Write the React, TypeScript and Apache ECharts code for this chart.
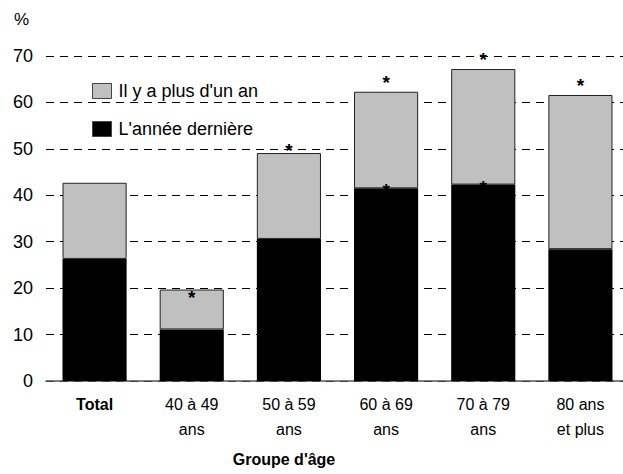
import React, { useEffect, useRef } from "react";
import * as echarts from "echarts";

const categories = ["Total", "40 à 49\nans", "50 à 59\nans", "60 à 69\nans", "70 à 79\nans", "80 ans\net plus"];
const lastYear = [26.3, 11.1, 30.6, 41.5, 42.3, 28.4];
const overYear = [16.4, 8.6, 18.5, 20.8, 24.9, 33.2];
const lastYearStar = [false, false, false, true, true, false];
const overYearStar = [false, true, true, true, true, true];
const yTicks = [0, 10, 20, 30, 40, 50, 60, 70];

const FONT = "'Liberation Sans', Arial, sans-serif";

export default function App() {
  const ref = useRef<HTMLDivElement>(null);
  useEffect(() => {
    if (!ref.current) return;
    const chart = echarts.init(ref.current, undefined, { renderer: "svg" });
    const overOffsets = [0, 17, 7, 0, 0, 0];
    chart.setOption({
      animation: false,
      textStyle: { fontFamily: FONT },
      grid: { left: 46, right: 11, top: 56, bottom: 93, containLabel: false },
      legend: {
        orient: "vertical",
        left: 92,
        top: 82,
        padding: 0,
        icon: "rect",
        itemWidth: 19,
        itemHeight: 15,
        itemGap: 20,
        data: ["Il y a plus d'un an", "L'année dernière"],
        itemStyle: { borderColor: "#444", borderWidth: 1 },
        textStyle: { fontFamily: FONT, fontSize: 18, color: "#000", padding: [0, 0, 0, 2] },
      },
      xAxis: {
        type: "category",
        data: categories,
        axisTick: { show: false },
        axisLine: { lineStyle: { color: "#555", width: 1.5 } },
        axisLabel: {
          interval: 0,
          margin: 11,
          fontSize: 16,
          lineHeight: 25,
          color: "#000",
          fontFamily: FONT,
          formatter: (v: string) => (v === "Total" ? "{b|Total}" : v),
          rich: { b: { fontWeight: "bold", fontSize: 16, fontFamily: FONT, color: "#000" } },
        },
      },
      yAxis: {
        type: "value",
        min: yTicks[0],
        max: yTicks[yTicks.length - 1],
        interval: 10,
        axisLine: { show: false },
        axisTick: { show: false },
        axisLabel: { fontSize: 18, color: "#000", margin: 13, fontFamily: FONT },
        splitLine: { lineStyle: { color: "#000", type: [8, 6], width: 1 } },
      },
      series: [
        {
          name: "L'année dernière",
          type: "bar",
          stack: "a",
          barCategoryGap: "34%",
          itemStyle: { color: "#000", borderWidth: 0 },
          data: lastYear.map((v, i) => ({
            value: v,
            label: {
              show: lastYearStar[i],
              position: "top",
              distance: -12,
              formatter: "*",
              fontSize: 19,
              fontWeight: "bold",
              color: "#000",
              fontFamily: FONT,
            },
          })),
        },
        {
          name: "Il y a plus d'un an",
          type: "bar",
          stack: "a",
          barCategoryGap: "34%",
          itemStyle: { color: "#c0c0c0", borderColor: "#222", borderWidth: 1 },
          data: overYear.map((v, i) => ({
            value: v,
            label: {
              show: overYearStar[i],
              position: "top",
              distance: 0,
              offset: [0, overOffsets[i]],
              formatter: "*",
              fontSize: 19,
              fontWeight: "bold",
              color: "#000",
              fontFamily: FONT,
            },
          })),
        },
      ],
      graphic: [
        { type: "text", left: 14, top: 11, style: { text: "%", fontSize: 17, fontFamily: FONT, fill: "#000" } },
        {
          type: "text",
          x: 284,
          y: 459,
          style: {
            text: "Groupe d'âge",
            fontSize: 16,
            fontWeight: "bold",
            fontFamily: FONT,
            fill: "#000",
            align: "center",
            verticalAlign: "middle",
          },
        },
      ],
    });
    return () => chart.dispose();
  }, []);
  return (
    <div style={{ position: "fixed", left: 0, top: 0, width: 623, height: 474, overflow: "hidden", background: "#fff" }}>
      <div ref={ref} style={{ width: 640, height: 474 }} />
    </div>
  );
}
